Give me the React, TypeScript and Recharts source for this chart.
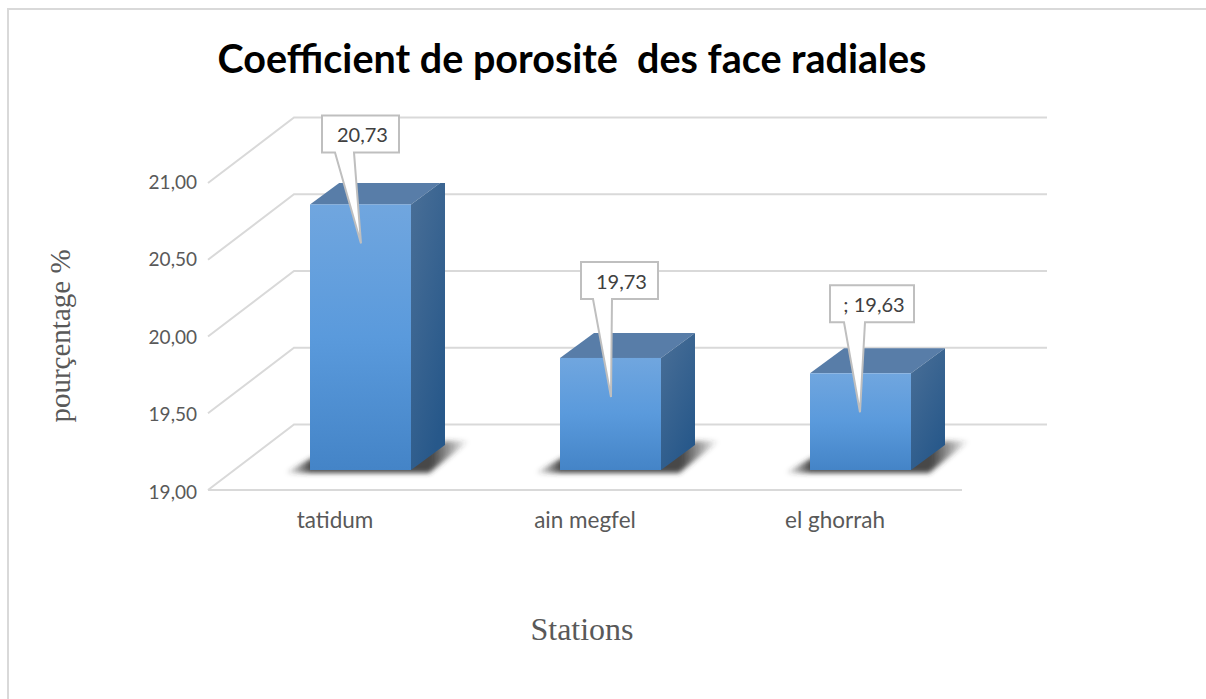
import React from "react";
import { Bar, BarChart, CartesianGrid, LabelList, XAxis, YAxis } from "recharts";

const stations = ["tatidum", "ain megfel", "el ghorrah"];
const porosity = [20.73, 19.73, 19.63];
const calloutTexts = ["20,73", "19,73", "; 19,63"];
const yTicks = [19, 19.5, 20, 20.5, 21];

const data = stations.map((name, i) => ({ name, porosity: porosity[i], callout: calloutTexts[i] }));

const DEPTH_X = 34;
const DEPTH_Y = 25;
const BAR_SHIFT_X = 23; // bars sit further back than the front of the floor
const BAR_SHIFT_Y = 20;
const WALL_X = 294;
const WALL_RIGHT = 1047;
const FLOOR_LEFT = 208;
const FLOOR_RIGHT = 962;

// box left (from bar front left), box top (from bar top), box width
const calloutLayout = [
  { dx: 12, dy: -89, w: 77, baseL: 13, baseR: 32, tipX: 51 },
  { dx: 21, dy: -96, w: 77, baseL: 12, baseR: 31, tipX: 51 },
  { dx: 20, dy: -88, w: 84, baseL: 14, baseR: 35, tipX: 50 },
];

const Bar3D = (props: any) => {
  const { x, y, width, height } = props;
  const l = x + BAR_SHIFT_X;
  const r = l + width;
  const top = y - BAR_SHIFT_Y;
  const bottom = top + height;
  return (
    <g>
      <path
        d={`M${l - 25} ${bottom + 3} L${l + 2} ${bottom - 12} L${r} ${bottom - 12} L${r + DEPTH_X} ${bottom - 29} L${r + 58} ${bottom - 29} L${r + 18} ${bottom + 3} Z`}
        fill="url(#shadowFade)"
        filter="url(#floorShadow)"
      />
      <path
        d={`M${l} ${top} L${l + DEPTH_X} ${top - DEPTH_Y} L${r + DEPTH_X} ${top - DEPTH_Y} L${r} ${top} Z`}
        fill="#587DA8"
      />
      <path
        d={`M${r} ${top} L${r + DEPTH_X} ${top - DEPTH_Y} L${r + DEPTH_X} ${bottom - DEPTH_Y} L${r} ${bottom} Z`}
        fill="url(#sideFace)"
      />
      <rect x={l} y={top} width={width} height={height} fill="url(#frontFace)" />
    </g>
  );
};

const Callout = (props: any) => {
  const { x, y, index, value } = props;
  const c = calloutLayout[index];
  const l = x + BAR_SHIFT_X;
  const barTop = y - BAR_SHIFT_Y;
  const boxL = l + c.dx;
  const boxT = barTop + c.dy;
  const boxB = boxT + 37;
  const d = `M${boxL} ${boxT} H${boxL + c.w} V${boxB} H${boxL + c.baseR} L${l + c.tipX} ${barTop + 39} L${boxL + c.baseL} ${boxB} H${boxL} Z`;
  return (
    <g>
      <path d={d} fill="#ffffff" stroke="#bfbfbf" strokeWidth={2} />
      <text
        x={boxL + c.w / 2 + 2}
        y={boxT + 27}
        textAnchor="middle"
        fontFamily="Lato"
        fontSize={20}
        fill="#404040"
      >
        {value}
      </text>
    </g>
  );
};

const wallLine = (props: any) => {
  const { y1, key } = props;
  const frontY = y1;
  const backY = y1 - 65.5;
  const isFloor = Math.abs(frontY - 490) < 1;
  return (
    <g key={key}>
      <path
        d={`M${FLOOR_LEFT} ${frontY} L${WALL_X} ${backY} L${WALL_RIGHT} ${backY}`}
        fill="none"
        stroke="#d9d9d9"
        strokeWidth={2}
      />
      {isFloor && (
        <path d={`M${FLOOR_LEFT} ${frontY} H${FLOOR_RIGHT}`} fill="none" stroke="#d9d9d9" strokeWidth={2} />
      )}
    </g>
  );
};

const YTick = (props: any) => {
  const { y, payload } = props;
  const label = payload.value.toFixed(2).replace(".", ",");
  return (
    <text x={197} y={y - (490 - y) * 0.01 + 9} textAnchor="end" fontFamily="Lato" fontSize={19} fill="#595959">
      {label}
    </text>
  );
};

const XTick = (props: any) => {
  const { x, y, payload } = props;
  return (
    <text x={x - 2} y={y + 15} textAnchor="middle" fontFamily="Lato" fontSize={22.5} fill="#595959">
      {payload.value}
    </text>
  );
};

export default function App() {
  return (
    <div style={{ position: "absolute", left: 0, top: 0, width: 1206, height: 699, background: "#fff", overflow: "hidden" }}>
      <div style={{ position: "absolute", left: 7, top: 8, right: 0, height: 2, background: "#d9d9d9" }} />
      <div style={{ position: "absolute", left: 7, top: 8, bottom: 0, width: 2, background: "#d9d9d9" }} />
      <BarChart
        width={1206}
        height={699}
        data={data}
        margin={{ top: 183, right: 244, bottom: 169, left: 112 }}
        style={{ position: "absolute", left: 0, top: 0 }}
      >
        <defs>
          <linearGradient id="frontFace" x1="0" y1="0" x2="0" y2="1">
            <stop offset="0" stopColor="#70A6DF" />
            <stop offset="0.5" stopColor="#5A9ADC" />
            <stop offset="1" stopColor="#4484C7" />
          </linearGradient>
          <linearGradient id="sideFace" x1="0" y1="0" x2="0.6" y2="1">
            <stop offset="0" stopColor="#4A6F97" />
            <stop offset="1" stopColor="#27588A" />
          </linearGradient>
          <linearGradient id="shadowFade" x1="0" y1="0" x2="1" y2="0">
            <stop offset="0" stopColor="#333333" stopOpacity={0} />
            <stop offset="0.14" stopColor="#333333" stopOpacity={0.9} />
            <stop offset="0.8" stopColor="#333333" stopOpacity={0.9} />
            <stop offset="1" stopColor="#333333" stopOpacity={0} />
          </linearGradient>
          <filter id="floorShadow" x="-20%" y="-50%" width="140%" height="200%">
            <feGaussianBlur stdDeviation="2.5" />
          </filter>
        </defs>
        <text
          x={572}
          y={73}
          textAnchor="middle"
          fontFamily="Lato"
          fontWeight={700}
          fontSize={39.5}
          fill="#000"
          style={{ whiteSpace: "pre" }}
        >
          Coefficient de porosité  des face radiales
        </text>
        <text
          x={60}
          y={336}
          textAnchor="middle"
          transform="rotate(-90 60 336)"
          dominantBaseline="central"
          fontFamily="Liberation Serif"
          fontSize={29}
          fill="#595959"
        >
          pourçentage %
        </text>
        <text x={582} y={640} textAnchor="middle" fontFamily="Liberation Serif" fontSize={32} fill="#595959">
          Stations
        </text>
        <CartesianGrid vertical={false} horizontal={wallLine} />
        <XAxis dataKey="name" height={40} axisLine={false} tickLine={false} tick={XTick} tickMargin={17} />
        <YAxis
          domain={[19, 21]}
          ticks={yTicks}
          width={100}
          axisLine={false}
          tickLine={false}
          tick={YTick}
          allowDataOverflow
        />
        <Bar dataKey="porosity" barSize={101} isAnimationActive={false} shape={Bar3D}>
          <LabelList dataKey="callout" content={Callout} />
        </Bar>
      </BarChart>
    </div>
  );
}
